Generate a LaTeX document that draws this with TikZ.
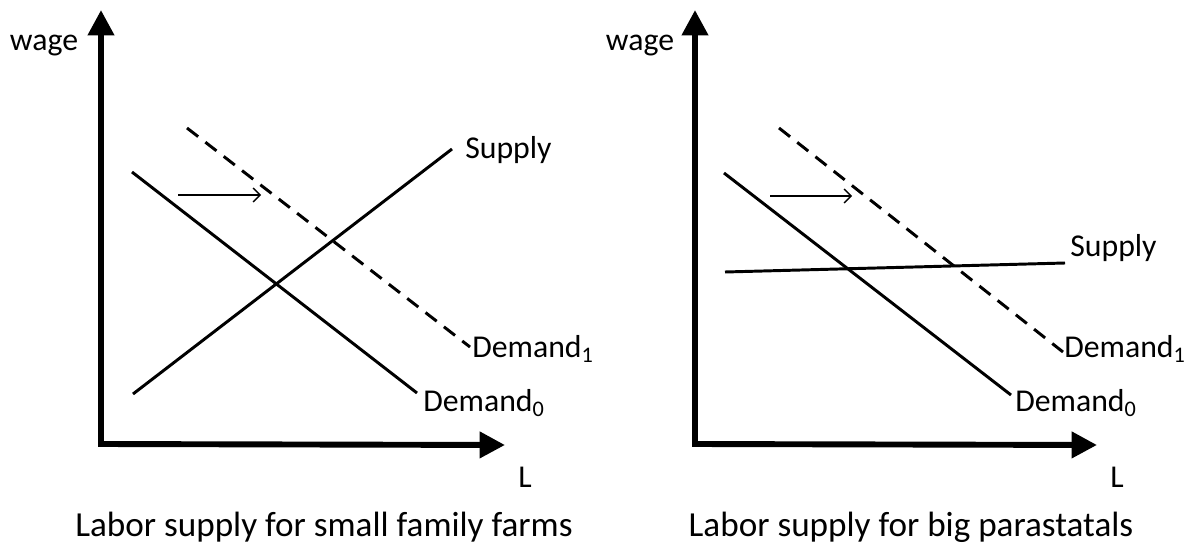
\documentclass[tikz,border=0pt]{standalone}
\usepackage{fontspec}
\setmainfont{Carlito}
\usetikzlibrary{arrows.meta}

\begin{document}
\begin{tikzpicture}[x=0.025cm,y=-0.025cm,
    axis/.style={line width=4.2pt,line join=miter,{Triangle[length=18pt,width=18pt]}-{Triangle[length=18pt,width=18pt]}},
    curve/.style={line width=2.1pt},
    shiftarrow/.style={line width=0.9pt,-{Straight Barb[length=5pt,width=10pt]}},
    lbl/.style={font=\fontsize{22.6}{27}\selectfont,inner sep=0pt},
    caption/.style={font=\fontsize{25}{30}\selectfont,inner sep=0pt}]
    \useasboundingbox (0,0) rectangle (1196,545);

    %left panel
    \coordinate (ly) at (101,10);
    \coordinate (lo) at (101,444);
    \coordinate (lx) at (505,445);
    \draw[axis] (ly) -- (lo) -- (lx);
    \node[lbl] (lwage) at (44,46) {wage};
    \node[lbl] (lL) at (525,477) {L};

    \coordinate (ls0) at (133,394);
    \coordinate (ls1) at (452,149);
    \coordinate (ld0a) at (132,172);
    \coordinate (ld0b) at (417,393);
    \coordinate (ld1a) at (187,128);
    \coordinate (ld1b) at (470,347);
    \path [curve] (ls0) edge (ls1);
    \path [curve] (ld0a) edge (ld0b);
    \path [curve,dashed,dash pattern=on 10pt off 6.5pt] (ld1a) edge (ld1b);
    %shift
    \coordinate (la0) at (178,195);
    \coordinate (la1) at (261,195);
    \path [shiftarrow] (la0) edge (la1);

    \node[lbl,anchor=west] (lsup) at (465,150) {Supply};
    \node[lbl,anchor=west] (ldem1) at (472,349) {Demand\textsubscript{1}};
    \node[lbl,anchor=west] (ldem0) at (423,403) {Demand\textsubscript{0}};
    \node[caption] (lcap) at (324,527) {Labor supply for small family farms};

    %right panel
    \coordinate (ry) at (695,10);
    \coordinate (ro) at (695,444);
    \coordinate (rx) at (1097,445);
    \draw[axis] (ry) -- (ro) -- (rx);
    \node[lbl] (rwage) at (640,46) {wage};
    \node[lbl] (rL) at (1117,477) {L};

    \coordinate (rs0) at (725,272);
    \coordinate (rs1) at (1065,263);
    \coordinate (rd0a) at (724,173);
    \coordinate (rd0b) at (1011,395);
    \coordinate (rd1a) at (779,128);
    \coordinate (rd1b) at (1063,352);
    \path [curve] (rs0) edge (rs1);
    \path [curve] (rd0a) edge (rd0b);
    \path [curve,dashed,dash pattern=on 10pt off 6.5pt] (rd1a) edge (rd1b);
    %shift
    \coordinate (ra0) at (770,196);
    \coordinate (ra1) at (852,196);
    \path [shiftarrow] (ra0) edge (ra1);

    \node[lbl,anchor=west] (rsup) at (1070,248) {Supply};
    \node[lbl,anchor=west] (rdem1) at (1064,349) {Demand\textsubscript{1}};
    \node[lbl,anchor=west] (rdem0) at (1015,403) {Demand\textsubscript{0}};
    \node[caption] (rcap) at (911,527) {Labor supply for big parastatals};
\end{tikzpicture}
\end{document}
